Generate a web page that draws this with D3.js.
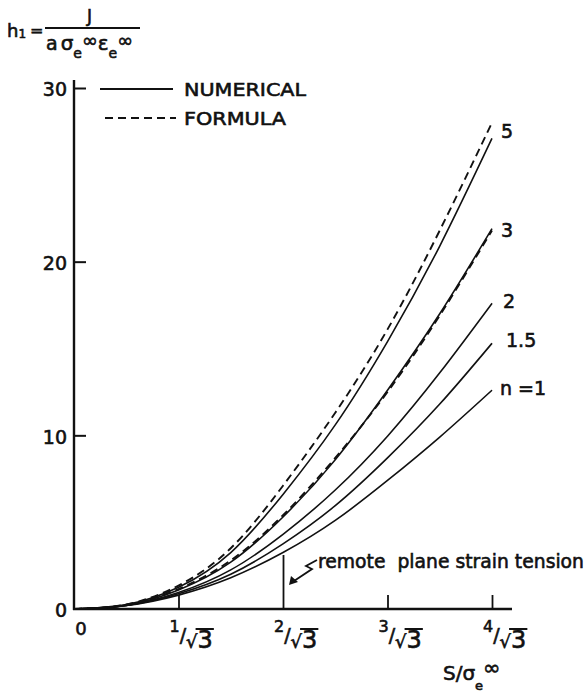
<!DOCTYPE html>
<html>
<head>
<meta charset="utf-8">
<script src="https://cdn.jsdelivr.net/npm/d3@7"></script>
<style>
  html, body { margin: 0; padding: 0; background: #fff; }
  svg text { font-family: "DejaVu Sans", sans-serif; fill: #111; stroke: #111; stroke-width: 0.6px; }
</style>
</head>
<body>
<div id="chart"></div>
<script>
// S / sigma_e^inf, in units of 1/sqrt(3)
const sGrid = [0, 0.5, 1, 1.5, 2, 2.5, 3, 3.5, 4];
// h1
const hN1  = [0, 0.20, 0.80, 1.80, 3.25, 5.10, 7.40, 9.90, 12.6];
const hN15 = [0, 0.20, 0.88, 2.00, 3.75, 5.95, 8.70, 11.8, 15.3];
const hN2  = [0, 0.21, 0.95, 2.25, 4.30, 6.85, 9.95, 13.6, 17.6];
const hN3  = [0, 0.22, 1.10, 2.70, 5.30, 8.60, 12.6, 17.0, 21.9];
const hN5  = [0, 0.25, 1.25, 3.25, 6.60, 10.6, 15.4, 20.9, 27.1];
const hF3  = [0, 0.22, 1.15, 2.80, 5.40, 8.70, 12.5, 16.9, 21.8];
const hF5  = [0, 0.26, 1.35, 3.50, 7.10, 11.3, 16.1, 21.8, 28.0];

const numericalCurves = [hN1, hN15, hN2, hN3, hN5];
const formulaCurves = [hF3, hF5];
const curveLabels = ["n =1", "1.5", "2", "3", "5"];
const yTicks = [0, 10, 20, 30];
const xTicks = [1, 2, 3, 4];

const width = 587, height = 693;
const x0 = 74, y0 = 609;

const svg = d3.select("#chart").append("svg")
	.attr("width", width)
	.attr("height", height);

const x = d3.scaleLinear().domain([0, 4]).range([x0, 492]);
const y = d3.scaleLinear().domain([0, 30]).range([y0, 88]);

// axes
const yAxis = d3.axisLeft(y).tickValues(yTicks).tickSizeInner(-12).tickSizeOuter(0).tickPadding(7);
const gy = svg.append("g").attr("transform", `translate(${x0},0)`).call(yAxis);
gy.select(".domain").remove();
gy.selectAll(".tick line").attr("stroke", "#111").attr("stroke-width", 2);
gy.selectAll(".tick text").style("font-size", "19px").attr("dy", "0.42em");
gy.selectAll(".tick").filter(d => d == 0).select("line").remove();

const xAxis = d3.axisBottom(x).tickValues(xTicks).tickSizeInner(-14).tickSizeOuter(0).tickFormat("");
const gx = svg.append("g").attr("transform", `translate(0,${y0})`).call(xAxis);
gx.select(".domain").remove();
gx.selectAll(".tick line").attr("stroke", "#111").attr("stroke-width", 1.8);
// the tall tick at 2/sqrt3
gx.selectAll(".tick").filter(d => d == 2).select("line").attr("y2", -54);

svg.append("line").attr("x1", x0).attr("x2", x0).attr("y1", 80).attr("y2", y0 + 1)
	.attr("stroke", "#111").attr("stroke-width", 2.4);
svg.append("line").attr("x1", x0 - 1).attr("x2", 512).attr("y1", y0).attr("y2", y0)
	.attr("stroke", "#111").attr("stroke-width", 2.4);

// x tick labels  k/sqrt3
svg.append("text").attr("x", x(0) + 7).attr("y", 635).attr("text-anchor", "middle")
	.style("font-size", "18px").text("0");

xTicks.forEach(k => {
	const tx = x(k);
	const t = svg.append("text").attr("x", tx - 9).attr("y", 632);
	t.append("tspan").style("font-size", "16px").text(k);
	t.append("tspan").attr("dy", 10).style("font-size", "19px").text("/");
	t.append("tspan").attr("dy", 6).style("font-size", "18px").text("√");
	t.append("tspan").style("font-size", "24px").text("3");
	const node = t.node();
	const r = node.getExtentOfChar(2);
	const n3 = node.getExtentOfChar(3);
	svg.append("line").attr("x1", r.x + r.width - 2).attr("x2", n3.x + n3.width + 1)
		.attr("y1", 629).attr("y2", 629).attr("stroke", "#111").attr("stroke-width", 2);
});

// curves
const line = d3.line()
	.x((d, i) => x(sGrid[i]))
	.y(d => y(d))
	.curve(d3.curveNatural);

svg.append("g").selectAll("path")
	.data(numericalCurves)
	.join("path")
	.attr("d", line)
	.attr("fill", "none")
	.attr("stroke", "#111")
	.attr("stroke-width", 1.6);

svg.append("g").selectAll("path")
	.data(formulaCurves)
	.join("path")
	.attr("d", line)
	.attr("fill", "none")
	.attr("stroke", "#111")
	.attr("stroke-width", 1.9)
	.attr("stroke-dasharray", "8,5");

// curve labels
const labelPos = [[500, 395], [506, 347], [503, 308], [501, 237], [501, 138]];
svg.append("g").selectAll("text")
	.data(curveLabels)
	.join("text")
	.attr("x", (d, i) => labelPos[i][0])
	.attr("y", (d, i) => labelPos[i][1])
	.style("font-size", "19px")
	.text(d => d);

// legend
svg.append("line").attr("x1", 100).attr("x2", 173).attr("y1", 89).attr("y2", 89)
	.attr("stroke", "#111").attr("stroke-width", 2);
svg.append("line").attr("x1", 105).attr("x2", 176).attr("y1", 118).attr("y2", 118)
	.attr("stroke", "#111").attr("stroke-width", 2).attr("stroke-dasharray", "8,5");
svg.append("text").attr("x", 184).attr("y", 96).style("font-size", "18px")
	.attr("textLength", 122).attr("lengthAdjust", "spacingAndGlyphs").text("NUMERICAL");
svg.append("text").attr("x", 184).attr("y", 125).style("font-size", "18px")
	.attr("textLength", 102).attr("lengthAdjust", "spacingAndGlyphs").text("FORMULA");

// remote plane strain tension
svg.append("text").attr("x", 318).attr("y", 568).style("font-size", "19px")
	.attr("textLength", 266).attr("lengthAdjust", "spacingAndGlyphs")
	.attr("xml:space", "preserve").text("remote  plane strain tension");
svg.append("path").attr("d", "M317,560 L306,566 L312,569 L294,581")
	.attr("fill", "none").attr("stroke", "#111").attr("stroke-width", 1.8);
svg.append("path").attr("d", "M289,585 L291,576 L298,582 Z").attr("fill", "#111");

// y title: h1 = J / (a sigma_e^inf eps_e^inf)
const ty = svg.append("g");
const lhs = ty.append("text").attr("x", 7).attr("y", 37);
lhs.append("tspan").style("font-size", "18px").text("h");
lhs.append("tspan").attr("dy", 1).style("font-size", "12px").text("1");
lhs.append("tspan").attr("dx", 4).attr("dy", -2).style("font-size", "16px").text("=");
ty.append("line").attr("x1", 45).attr("x2", 140).attr("y1", 28).attr("y2", 28)
	.attr("stroke", "#111").attr("stroke-width", 2);
ty.append("text").attr("x", 87).attr("y", 22).style("font-size", "17px").text("J");
const den = ty.append("text").attr("x", 46).attr("y", 50);
den.append("tspan").style("font-size", "19px").text("a");
den.append("tspan").attr("dx", 3).style("font-size", "20px").text("σ");
den.append("tspan").attr("dy", 8).style("font-size", "14px").text("e");
den.append("tspan").attr("dy", -11).style("font-size", "19px").text("∞");
den.append("tspan").attr("dy", 3).style("font-size", "20px").text("ε");
den.append("tspan").attr("dy", 8).style("font-size", "14px").text("e");
den.append("tspan").attr("dy", -11).style("font-size", "19px").text("∞");

// x title: S / sigma_e^inf
const xt = svg.append("text").attr("x", 443).attr("y", 680);
xt.append("tspan").style("font-size", "20px").text("S/σ");
xt.append("tspan").attr("dy", 10).style("font-size", "13px").text("e");
xt.append("tspan").attr("dy", -15).style("font-size", "21px").text("∞");
</script>
</body>
</html>
